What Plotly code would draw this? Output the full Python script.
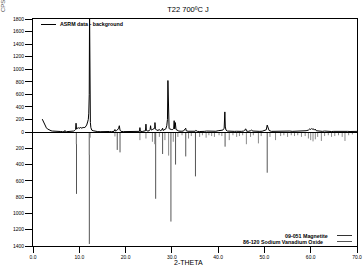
import plotly.graph_objects as go

# ---- data ----
two_theta = [2.0, 2.1, 2.2, 2.35, 2.5, 2.7, 2.9, 3.1, 3.3, 3.5, 3.7, 3.9, 4.2, 4.5, 4.8, 5.2, 5.6, 6.0, 6.4, 6.8, 6.9, 7.0,
             7.2, 7.6, 8.0, 8.4, 8.8, 9.0, 9.2, 9.3, 9.4, 9.6, 9.8, 10.0, 10.2, 10.4, 10.6, 10.8, 11.0, 11.2, 11.4,
             11.6, 11.8, 11.95, 12.05, 12.15, 12.22, 12.3, 12.4, 12.5, 12.6, 12.7, 13.0, 13.5, 14.0, 14.5, 15.0, 15.5,
             16.0, 16.5, 17.0, 17.5, 17.7, 17.8, 18.0, 18.2, 18.5, 18.65, 18.8, 19.0, 19.5, 20.0, 20.5, 21.0, 21.5,
             22.0, 22.5, 23.0, 23.1, 23.2, 23.6, 24.0, 24.3, 24.4, 24.5, 24.8, 25.1, 25.3, 25.4, 25.5, 25.7, 25.9,
             26.1, 26.3, 26.35, 26.45, 26.7, 27.0, 27.3, 27.5, 27.8, 28.0, 28.1, 28.4, 28.7, 28.9, 29.05, 29.15,
             29.25, 29.4, 29.6, 29.8, 30.0, 30.2, 30.4, 30.5, 30.6, 30.75, 30.9, 31.2, 31.5, 32.0, 32.5, 33.0, 33.1,
             33.5, 34.0, 34.5, 35.0, 35.2, 35.5, 36.0, 36.5, 37.0, 37.5, 38.0, 38.5, 39.0, 39.5, 40.0, 40.5, 41.0,
             41.3, 41.45, 41.55, 41.7, 42.0, 42.5, 43.0, 43.5, 44.0, 44.5, 45.0, 45.5, 46.0, 46.1, 46.5, 47.0, 47.2,
             47.5, 48.0, 48.5, 49.0, 49.5, 50.0, 50.4, 50.6, 50.75, 51.0, 51.5, 52.0, 52.5, 53.0, 53.5, 54.0, 54.5,
             55.0, 55.5, 56.0, 56.5, 57.0, 57.5, 58.0, 58.5, 59.0, 59.5, 59.8, 60.0, 60.2, 60.4, 60.6, 60.8, 61.0,
             61.2, 61.5, 62.0, 62.5, 63.0, 63.5, 64.0, 64.5, 65.0, 65.5, 66.0, 66.5, 67.0, 67.5, 68.0, 68.5, 69.0,
             69.5, 70.0]
counts = [205, 190, 165, 140, 110, 85, 65, 50, 40, 32, 25, 20, 15, 12, 10, 8, 6, 8, 5, 6, 25, 6,
          5, 6, 8, 10, 15, 25, 40, 140, 45, 60, 70, 55, 75, 60, 70, 65, 75, 70, 90,
          110, 160, 200, 300, 600, 1950, 500, 150, 70, 45, 30, 20, 8, 6, 5, 8, 5,
          6, 8, 5, 10, 40, 15, 20, 30, 60, 100, 30, 10, 6, 5, 8, 5, 6,
          8, 6, 10, 70, 10, 8, 10, 20, 125, 25, 15, 20, 40, 100, 40, 30, 45,
          50, 60, 150, 50, 30, 25, 40, 20, 30, 60, 25, 35, 50, 100, 200, 820,
          200, 60, 40, 50, 35, 40, 60, 180, 50, 150, 40, 20, 15, 12, 15, 60, 20,
          12, 10, 15, 12, 25, 10, 8, 15, 10, 15, 12, 20, 15, 12, 20, 25, 30,
          60, 320, 80, 30, 15, 10, 8, 10, 12, 8, 10, 15, 50, 15, 10, 20, 30,
          15, 10, 15, 10, 12, 20, 35, 110, 60, 25, 10, 12, 10, 8, 10, 15, 10,
          12, 15, 10, 12, 10, 15, 12, 15, 20, 30, 50, 40, 55, 45, 50, 30, 45,
          20, 15, 12, 10, 15, 10, 12, 8, 10, 12, 10, 15, 12, 20, 10, 8, 10,
          8, 10]

magnetite_pos = [9.4, 12.17, 18.2, 18.8, 26.5, 28.0, 29.8, 30.8, 33.0, 35.1, 41.5, 50.6]
magnetite_int = [760, 1375, 220, 250, 820, 270, 1100, 400, 300, 545, 180, 500]

svo_pos = [9.35, 12.17, 12.35, 17.7, 23.1, 24.4, 25.8, 26.3, 27.3, 28.5, 29.3, 30.3, 31.3, 32.2, 33.6, 34.2,
           36.0, 36.6, 37.4, 38.0, 38.6, 39.2, 40.2, 40.8, 42.4, 43.2, 44.0, 44.6, 45.3, 46.1, 47.0, 47.6,
           48.7, 49.3, 51.2, 52.4, 53.5, 54.2, 55.0, 55.8, 56.5, 57.2, 58.0, 58.8, 59.5, 60.0, 60.5, 61.0,
           61.5, 62.3, 63.0, 63.8, 64.5, 65.2, 66.0, 66.8, 67.4, 68.2, 69.0]
svo_int = [150, 280, 70, 55, 100, 80, 120, 150, 60, 100, 290, 120, 60, 40, 80, 50,
           60, 40, 70, 40, 50, 60, 40, 50, 100, 40, 60, 50, 40, 150, 60, 40,
           140, 50, 60, 100, 50, 40, 60, 40, 50, 40, 60, 50, 80, 100, 115, 90,
           60, 110, 50, 40, 60, 50, 40, 60, 110, 40, 30]

upper_ticks = [0, 200, 400, 600, 800, 1000, 1200, 1400, 1600, 1800]
lower_ticks = [200, 400, 600, 800, 1000, 1200, 1400]
x_ticks = [0, 10, 20, 30, 40, 50, 60, 70]


def sticks(pos, inten):
    xs, ys = [], []
    for p, h in zip(pos, inten):
        xs += [p, p, None]
        ys += [0, h, None]
    return xs, ys


fig = go.Figure()
fig.add_trace(go.Scatter(x=two_theta, y=counts, mode="lines", line=dict(color="black", width=1),
                         name="ASRM data - background", xaxis="x2", yaxis="y", showlegend=False))
mx, my = sticks(magnetite_pos, magnetite_int)
fig.add_trace(go.Scatter(x=mx, y=my, mode="lines", line=dict(color="#555555", width=1),
                         name="09-051 Magnetite", xaxis="x", yaxis="y2", showlegend=False))
sx, sy = sticks(svo_pos, svo_int)
fig.add_trace(go.Scatter(x=sx, y=sy, mode="lines", line=dict(color="#8a8a8a", width=1),
                         name="86-120 Sodium Vanadium Oxide", xaxis="x", yaxis="y2", showlegend=False))

tickfont = dict(family="Liberation Sans, Arial", size=5, color="black")
L, R, T, B = 33, 357, 19, 246
split = (B - 132) / (B - T)

fig.update_layout(
    width=364, height=268,
    margin=dict(l=L, r=364 - R, t=T, b=268 - B, autoexpand=False),
    paper_bgcolor="white", plot_bgcolor="white",
    font=dict(family="Liberation Sans, Arial", color="black"),
    title=dict(text="T22 700ºC J", x=188 / 364, xref="container", xanchor="center",
               y=1 - 9 / 268, yref="container", yanchor="middle",
               font=dict(size=7.5, color="black")),
    xaxis=dict(domain=[0, 1], range=[0, 70], anchor="y2", tickvals=x_ticks, tickformat=".1f",
               ticks="outside", ticklen=6, tickwidth=1, tickcolor="black", automargin=False,
               showline=True, linecolor="black", linewidth=1, showgrid=False, zeroline=False,
               tickfont=tickfont),
    xaxis2=dict(domain=[0, 1], range=[0, 70], anchor="y", matches="x", showticklabels=False,
                ticks="", showline=True, linecolor="black", linewidth=1, mirror=True, automargin=False,
                showgrid=False, zeroline=False),
    yaxis=dict(domain=[split, 1], range=[0, 1800], anchor="x2", tickvals=upper_ticks, tickformat="d",
               ticks="outside", ticklen=7, tickwidth=1, tickcolor="black", automargin=False,
               showline=True, linecolor="black", linewidth=1, mirror=True,
               showgrid=False, zeroline=False, tickfont=tickfont),
    yaxis2=dict(domain=[0, split], range=[1400, 0], anchor="x", tickvals=lower_ticks, tickformat="d",
                ticks="outside", ticklen=7, tickwidth=1, tickcolor="black", automargin=False,
                showline=True, linecolor="black", linewidth=1, mirror=True,
                showgrid=False, zeroline=False, tickfont=tickfont),
)


def px_x(p):
    return (p - L) / (R - L)


def px_y(p):
    return (B - p) / (B - T)


# axis titles
fig.add_annotation(text="2-THETA", x=px_x(188), y=px_y(262), xref="paper", yref="paper",
                   showarrow=False, xanchor="center", yanchor="middle",
                   font=dict(size=7, color="black"))
fig.add_annotation(text="CPS", x=px_x(3), y=px_y(6), xref="paper", yref="paper",
                   showarrow=False, textangle=-90, font=dict(size=6, color="#555555"),
                   xanchor="center", yanchor="middle")

# legends drawn as text + sample lines
legfont = dict(family="Liberation Sans, Arial", size=5.3, color="black")

fig.add_shape(type="line", xref="paper", yref="paper", x0=px_x(41), x1=px_x(56), y0=px_y(24.5), y1=px_y(24.5),
              line=dict(color="black", width=1))
fig.add_annotation(text="<b>ASRM data - background</b>", x=px_x(57.5), y=px_y(24.5), xref="paper", yref="paper",
                   xanchor="left", yanchor="middle", showarrow=False, font=legfont)

fig.add_shape(type="line", xref="paper", yref="paper", x0=px_x(337), x1=px_x(352), y0=px_y(235.5), y1=px_y(235.5),
              line=dict(color="#333333", width=1))
fig.add_annotation(text="<b>09-051 Magnetite</b>", x=px_x(330), y=px_y(235.5), xref="paper", yref="paper",
                   xanchor="right", yanchor="middle", showarrow=False, font=legfont)
fig.add_shape(type="line", xref="paper", yref="paper", x0=px_x(337), x1=px_x(352), y0=px_y(241.5), y1=px_y(241.5),
              line=dict(color="#555555", width=1))
fig.add_annotation(text="<b>86-120 Sodium Vanadium Oxide</b>", x=px_x(325), y=px_y(241.5), xref="paper",
                   yref="paper", xanchor="right", yanchor="middle", showarrow=False, font=legfont)

fig.write_html("out.html", config={"displayModeBar": False},
               post_script="document.body.style.margin='0';document.body.style.padding='0';")
